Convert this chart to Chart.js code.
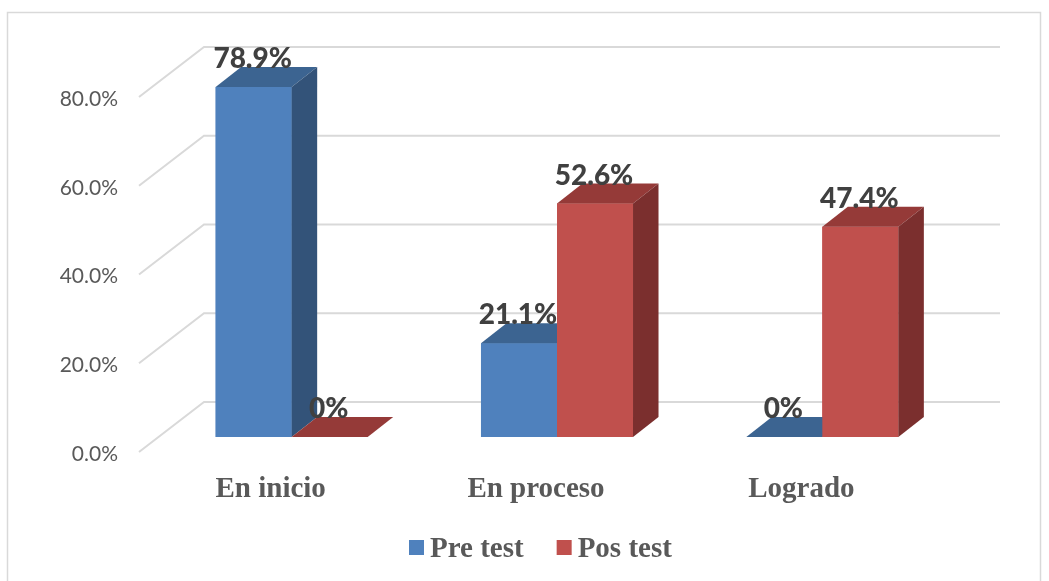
<!DOCTYPE html>
<html>
<head>
<meta charset="utf-8">
<style>
  html, body { margin: 0; padding: 0; background: #fff; overflow: hidden; }
  canvas { display: block; }
</style>
<script src="https://cdn.jsdelivr.net/npm/chart.js@4"></script>
</head>
<body>
<canvas id="chart" width="1049" height="581"></canvas>
<script>
// values
const categories = ['En inicio', 'En proceso', 'Logrado'];
const preTest = [78.9, 21.1, 0];
const posTest = [0, 52.6, 47.4];
const yTicks = [0, 20, 40, 60, 80];

const DX = 25.5, DY = 20;        // bar depth
const WALL_DX = 45, WALL_DY = 35;     // plane of the bars -> back wall
const FRONT_DX = 20, FRONT_DY = 15;   // plane of the bars -> front of the floor

const shades = [
  { top: '#3C6491', side: '#335379' },
  { top: '#953A38', side: '#7B2F2E' }
];

function face(ctx, pts, color) {
  ctx.fillStyle = color;
  ctx.beginPath();
  pts.forEach((p, i) => i ? ctx.lineTo(p[0], p[1]) : ctx.moveTo(p[0], p[1]));
  ctx.closePath();
  ctx.fill();
}

const plot3d = {
  id: 'plot3d',
  beforeDraw(chart) {
    const ctx = chart.ctx;
    // outer frame
    ctx.strokeStyle = '#D9D9D9';
    ctx.lineWidth = 1.5;
    ctx.beginPath();
    ctx.moveTo(7.5, 581);
    ctx.lineTo(7.5, 12.5);
    ctx.lineTo(1040.5, 12.5);
    ctx.lineTo(1040.5, 581);
    ctx.stroke();
  },
  beforeDatasetsDraw(chart) {
    const ctx = chart.ctx, y = chart.scales.y, a = chart.chartArea;
    ctx.strokeStyle = '#D9D9D9';
    ctx.lineWidth = 2;
    yTicks.forEach(v => {
      const py = y.getPixelForValue(v);
      ctx.beginPath();
      ctx.moveTo(a.left - FRONT_DX, py + FRONT_DY);
      ctx.lineTo(a.left + WALL_DX, py - WALL_DY);
      ctx.lineTo(a.right + WALL_DX, py - WALL_DY);
      ctx.stroke();
    });
  },
  afterDatasetsDraw(chart) {
    const ctx = chart.ctx;
    // blue first, so the red front hides the blue side
    [0, 1].forEach(i => {
      const c = shades[i];
      chart.getDatasetMeta(i).data.forEach(bar => {
        bar.draw(ctx);
        const l = bar.x - bar.width / 2, r = bar.x + bar.width / 2;
        const t = bar.y, b = bar.base;
        face(ctx, [[l, t], [r, t], [r + DX, t - DY], [l + DX, t - DY]], c.top);
        if (b - t > 0.5) face(ctx, [[r, t], [r + DX, t - DY], [r + DX, b - DY], [r, b]], c.side);
      });
    });
    ctx.font = '900 28px Lato';
    ctx.fillStyle = '#404040';
    ctx.textAlign = 'center';
    ctx.textBaseline = 'middle';
    [0, 1].forEach(i => {
      const values = chart.data.datasets[i].data;
      chart.getDatasetMeta(i).data.forEach((bar, j) => {
        const txt = values[j] === 0 ? '0%' : values[j].toFixed(1) + '%';
        ctx.fillText(txt, bar.x - 1, bar.y - 28);
      });
    });
  },
  afterDraw(chart) {
    // legend, the built-in one keeps too wide a gap after the swatch
    const ctx = chart.ctx;
    let x = 409;
    ctx.font = 'bold 29px "Liberation Serif"';
    ctx.textAlign = 'left';
    ctx.textBaseline = 'middle';
    chart.data.datasets.forEach(ds => {
      ctx.fillStyle = ds.backgroundColor;
      ctx.fillRect(x, 540, 15, 15);
      ctx.fillStyle = '#595959';
      ctx.fillText(ds.label, x + 21, 550);
      x += 21 + ctx.measureText(ds.label).width + 33;
    });
  }
};

new Chart(document.getElementById('chart'), {
  type: 'bar',
  data: {
    labels: categories,
    datasets: [
      { label: 'Pre test', data: preTest, backgroundColor: '#4F81BD' },
      { label: 'Pos test', data: posTest, backgroundColor: '#C0504D' }
    ]
  },
  options: {
    responsive: false,
    animation: false,
    categoryPercentage: 0.573,
    barPercentage: 1,
    layout: { padding: { top: 82, right: 94 } },
    scales: {
      x: {
        grid: { display: false },
        border: { display: false },
        afterFit(s) { s.height = 144; },
        ticks: {
          autoSkip: false, maxRotation: 0, padding: 27, labelOffset: -21,
          color: '#595959',
          font: { family: 'Liberation Serif', size: 29, weight: 'bold' }
        }
      },
      y: {
        min: 0, max: 80,
        grid: { display: false },
        border: { display: false },
        afterFit(s) { s.width = 159; },
        afterBuildTicks(s) { s.ticks = yTicks.map(v => ({ value: v })); },
        ticks: {
          padding: 33, labelOffset: 17,
          color: '#595959',
          font: { family: 'Lato', size: 21 },
          callback: v => v.toFixed(1) + '%'
        }
      }
    },
    plugins: {
      tooltip: { enabled: false },
      legend: { display: false }
    }
  },
  plugins: [plot3d]
});
</script>
</body>
</html>
